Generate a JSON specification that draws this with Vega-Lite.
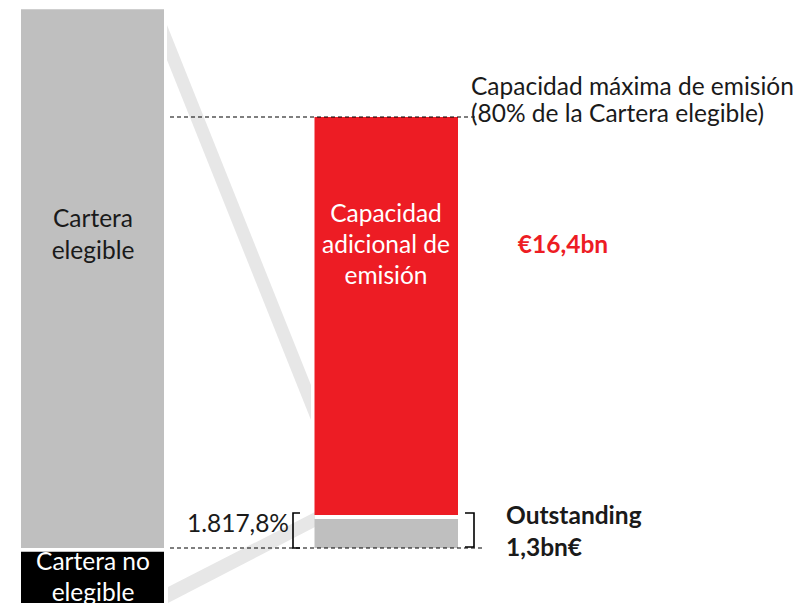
{
  "$schema": "https://vega.github.io/schema/vega-lite/v6.json",
  "width": 808,
  "height": 603,
  "padding": 0,
  "autosize": {"type": "none"},
  "background": "white",
  "config": {"view": {"stroke": null}, "axis": {"disable": true}},
  "datasets": {
    "bars": [
      {"name": "Cartera elegible", "x0": 21, "x1": 164, "y0": 0, "y1": 22.125, "kind": "grey"},
      {"name": "Cartera no elegible", "x0": 21, "x1": 164, "y0": -0.15, "y1": -2.26, "kind": "black"},
      {"name": "Capacidad adicional de emisión", "x0": 314.5, "x1": 458, "y0": 1.36, "y1": 17.7, "kind": "red"},
      {"name": "Outstanding", "x0": 314.5, "x1": 458, "y0": 0, "y1": 1.19, "kind": "grey"}
    ],
    "dashes": [
      {"x0": 170, "x1": 475, "y": 17.7},
      {"x0": 170, "x1": 483, "y": 0}
    ],
    "brackets": [
      {"b": "left", "o": 1, "x": 300, "y": 1.437},
      {"b": "left", "o": 2, "x": 293, "y": 1.437},
      {"b": "left", "o": 3, "x": 293, "y": 0},
      {"b": "left", "o": 4, "x": 300, "y": 0},
      {"b": "right", "o": 1, "x": 465, "y": 1.437},
      {"b": "right", "o": 2, "x": 474, "y": 1.437},
      {"b": "right", "o": 3, "x": 474, "y": 0.041},
      {"b": "right", "o": 4, "x": 465, "y": 0.041}
    ],
    "bands": [
      {"band": "upper", "x": 167, "y0": 20.041, "y1": 21.478},
      {"band": "upper", "x": 311, "y0": 5.257, "y1": 6.694},
      {"band": "lower", "x": 168, "y0": -2.259, "y1": -1.602},
      {"band": "lower", "x": 315, "y0": 0.862, "y1": 1.478}
    ],
    "centerDark": [
      {"x": 93, "y": 13.47, "label": "Cartera\nelegible"}
    ],
    "centerWhite": [
      {"x": 93, "y": -0.616, "label": "Cartera no\nelegible"},
      {"x": 386, "y": 13.676, "label": "Capacidad\nadicional de\nemisión"}
    ],
    "redBold": [
      {"x": 563, "y": 12.40, "label": "€16,4bn"}
    ],
    "leftDark": [
      {"x": 471, "y": 18.891, "label": "Capacidad máxima de emisión\n(80% de la Cartera elegible)"}
    ],
    "rightDark": [
      {"x": 289, "y": 0.95, "label": "1.817,8%"}
    ],
    "leftBold": [
      {"x": 506, "y": 1.273, "label": "Outstanding\n1,3bn€"}
    ]
  },
  "layer": [
    {
      "data": {"name": "bands"},
      "mark": {"type": "area", "color": "#E7E7E7", "orient": "vertical"},
      "encoding": {
        "x": {"field": "x", "type": "quantitative", "scale": {"domain": [0, 808], "nice": false, "zero": false}},
        "y": {"field": "y0", "type": "quantitative", "scale": {"domain": [-2.259, 22.505], "nice": false, "zero": false}},
        "y2": {"field": "y1"},
        "detail": {"field": "band"}
      }
    },
    {
      "data": {"name": "bars"},
      "mark": {"type": "rect", "clip": true},
      "encoding": {
        "x": {"field": "x0", "type": "quantitative"},
        "x2": {"field": "x1"},
        "y": {"field": "y0", "type": "quantitative"},
        "y2": {"field": "y1"},
        "color": {"field": "kind", "type": "nominal", "legend": null,
          "scale": {"domain": ["grey", "black", "red"], "range": ["#BFBFBF", "#000000", "#ED1C24"]}}
      }
    },
    {
      "data": {"name": "dashes"},
      "mark": {"type": "rule", "color": "#000000", "strokeWidth": 1.2, "strokeDash": [4, 3]},
      "encoding": {
        "x": {"field": "x0", "type": "quantitative"},
        "x2": {"field": "x1"},
        "y": {"field": "y", "type": "quantitative"}
      }
    },
    {
      "data": {"name": "brackets"},
      "mark": {"type": "line", "color": "#000000", "strokeWidth": 1.6},
      "encoding": {
        "x": {"field": "x", "type": "quantitative"},
        "y": {"field": "y", "type": "quantitative"},
        "detail": {"field": "b"},
        "order": {"field": "o"}
      }
    },
    {
      "data": {"name": "centerDark"},
      "mark": {"type": "text", "font": "Lato", "fontSize": 24.5, "color": "#1a1a1a", "align": "center", "baseline": "middle", "lineBreak": "\n", "lineHeight": 32},
      "encoding": {
        "x": {"field": "x", "type": "quantitative"},
        "y": {"field": "y", "type": "quantitative"},
        "text": {"field": "label"}
      }
    },
    {
      "data": {"name": "centerWhite"},
      "mark": {"type": "text", "font": "Lato", "fontSize": 24.5, "color": "#ffffff", "align": "center", "baseline": "middle", "lineBreak": "\n", "lineHeight": 31},
      "encoding": {
        "x": {"field": "x", "type": "quantitative"},
        "y": {"field": "y", "type": "quantitative"},
        "text": {"field": "label"}
      }
    },
    {
      "data": {"name": "redBold"},
      "mark": {"type": "text", "font": "Lato", "fontSize": 24.5, "fontWeight": "bold", "color": "#ED1C24", "align": "center", "baseline": "middle"},
      "encoding": {
        "x": {"field": "x", "type": "quantitative"},
        "y": {"field": "y", "type": "quantitative"},
        "text": {"field": "label"}
      }
    },
    {
      "data": {"name": "leftDark"},
      "mark": {"type": "text", "font": "Lato", "fontSize": 24.5, "color": "#1a1a1a", "align": "left", "baseline": "middle", "lineBreak": "\n", "lineHeight": 27},
      "encoding": {
        "x": {"field": "x", "type": "quantitative"},
        "y": {"field": "y", "type": "quantitative"},
        "text": {"field": "label"}
      }
    },
    {
      "data": {"name": "rightDark"},
      "mark": {"type": "text", "font": "Lato", "fontSize": 24.5, "color": "#1a1a1a", "align": "right", "baseline": "middle"},
      "encoding": {
        "x": {"field": "x", "type": "quantitative"},
        "y": {"field": "y", "type": "quantitative"},
        "text": {"field": "label"}
      }
    },
    {
      "data": {"name": "leftBold"},
      "mark": {"type": "text", "font": "Lato", "fontSize": 24.5, "fontWeight": "bold", "color": "#1a1a1a", "align": "left", "baseline": "middle", "lineBreak": "\n", "lineHeight": 32},
      "encoding": {
        "x": {"field": "x", "type": "quantitative"},
        "y": {"field": "y", "type": "quantitative"},
        "text": {"field": "label"}
      }
    }
  ]
}
